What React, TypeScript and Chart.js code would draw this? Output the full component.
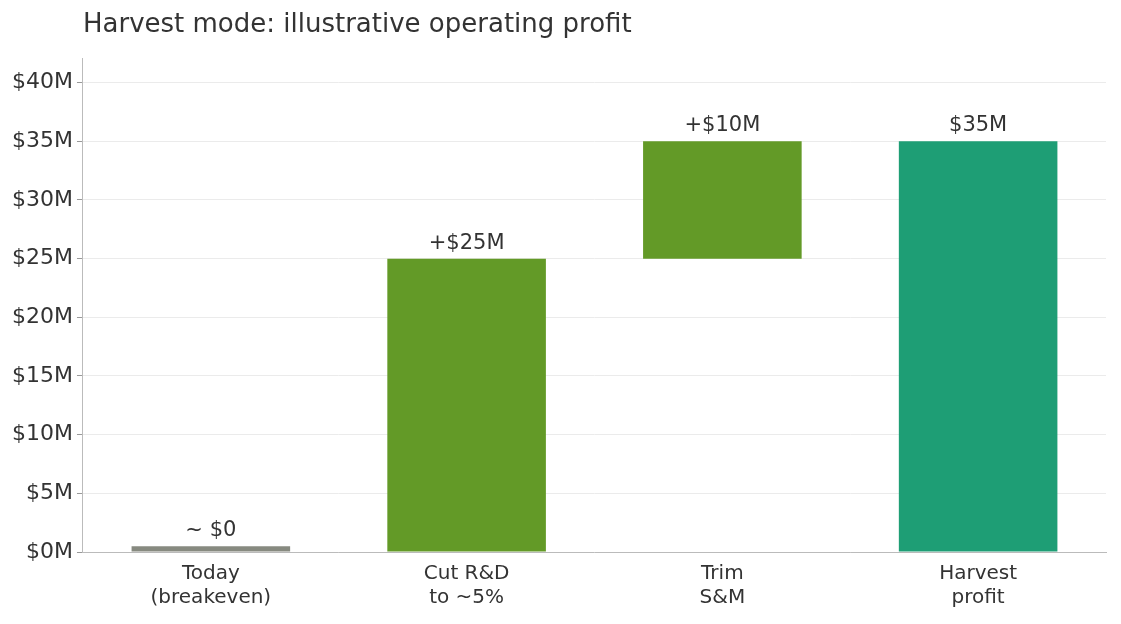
import React, { useEffect, useRef } from "react";
import { Chart, registerables } from "chart.js";
Chart.register(...registerables);

const categories = [["Today", "(breakeven)"], ["Cut R&D", "to ~5%"], ["Trim", "S&M"], ["Harvest", "profit"]];
const starts = [0, 0, 25, 0];
const ends = [0.5, 25, 35, 35];
const valueLabels = ["~ $0", "+$25M", "+$10M", "$35M"];
const colors = ["#878a80", "#639a27", "#639a27", "#1e9e75"];
const titleText = "Harvest mode: illustrative operating profit";

export default function App() {
  const ref = useRef<HTMLCanvasElement>(null);
  useEffect(() => {
    const font = "DejaVu Sans";
    const labelPlugin = {
      id: "labels",
      afterDatasetsDraw(chart: any) {
        const ctx = chart.ctx;
        const meta = chart.getDatasetMeta(0);
        ctx.save();
        ctx.fillStyle = "#333";
        ctx.font = `21px "${font}"`;
        ctx.textAlign = "center";
        ctx.textBaseline = "bottom";
        meta.data.forEach((b: any, i: number) => {
          ctx.fillText(valueLabels[i], b.x, b.y - 5);
        });
        ctx.font = `26px "${font}"`;
        ctx.textAlign = "left";
        ctx.textBaseline = "middle";
        ctx.fillText(titleText, chart.chartArea.left, 25);
        ctx.restore();
      },
    };
    const chart = new Chart(ref.current!, {
      type: "bar",
      data: {
        labels: categories,
        datasets: [{
          data: starts.map((s, i) => [s, ends[i]]),
          backgroundColor: colors,
          barPercentage: 0.62,
          categoryPercentage: 1,
        }],
      },
      options: {
        animation: false,
        responsive: true,
        maintainAspectRatio: false,
        layout: { padding: { top: 58, right: 15, left: 8, bottom: 10 } },
        plugins: { legend: { display: false }, tooltip: { enabled: false }, title: { display: false } },
        scales: {
          x: {
            grid: { display: false, drawTicks: true, tickLength: 6, tickColor: "#999" } as any,
            border: { color: "#bbb" },
            ticks: { color: "#333", font: { family: font, size: 20 }, padding: 4 },
          },
          y: {
            min: 0,
            max: 42.1,
            afterBuildTicks: (axis: any) => {
              axis.ticks = [0, 5, 10, 15, 20, 25, 30, 35, 40].map((v) => ({ value: v }));
            },
            grid: { color: "#ebebeb", tickLength: 6, tickColor: "#999" },
            border: { color: "#bbb" },
            ticks: { color: "#333", font: { family: font, size: 22 }, padding: 4, callback: (v: any) => `$${v}M` },
          },
        },
      },
      plugins: [labelPlugin],
    });
    return () => chart.destroy();
  }, []);
  return (
    <div style={{ position: "fixed", left: 0, top: 0, width: 1121, height: 624, background: "#fff" }}>
      <canvas ref={ref} />
    </div>
  );
}
